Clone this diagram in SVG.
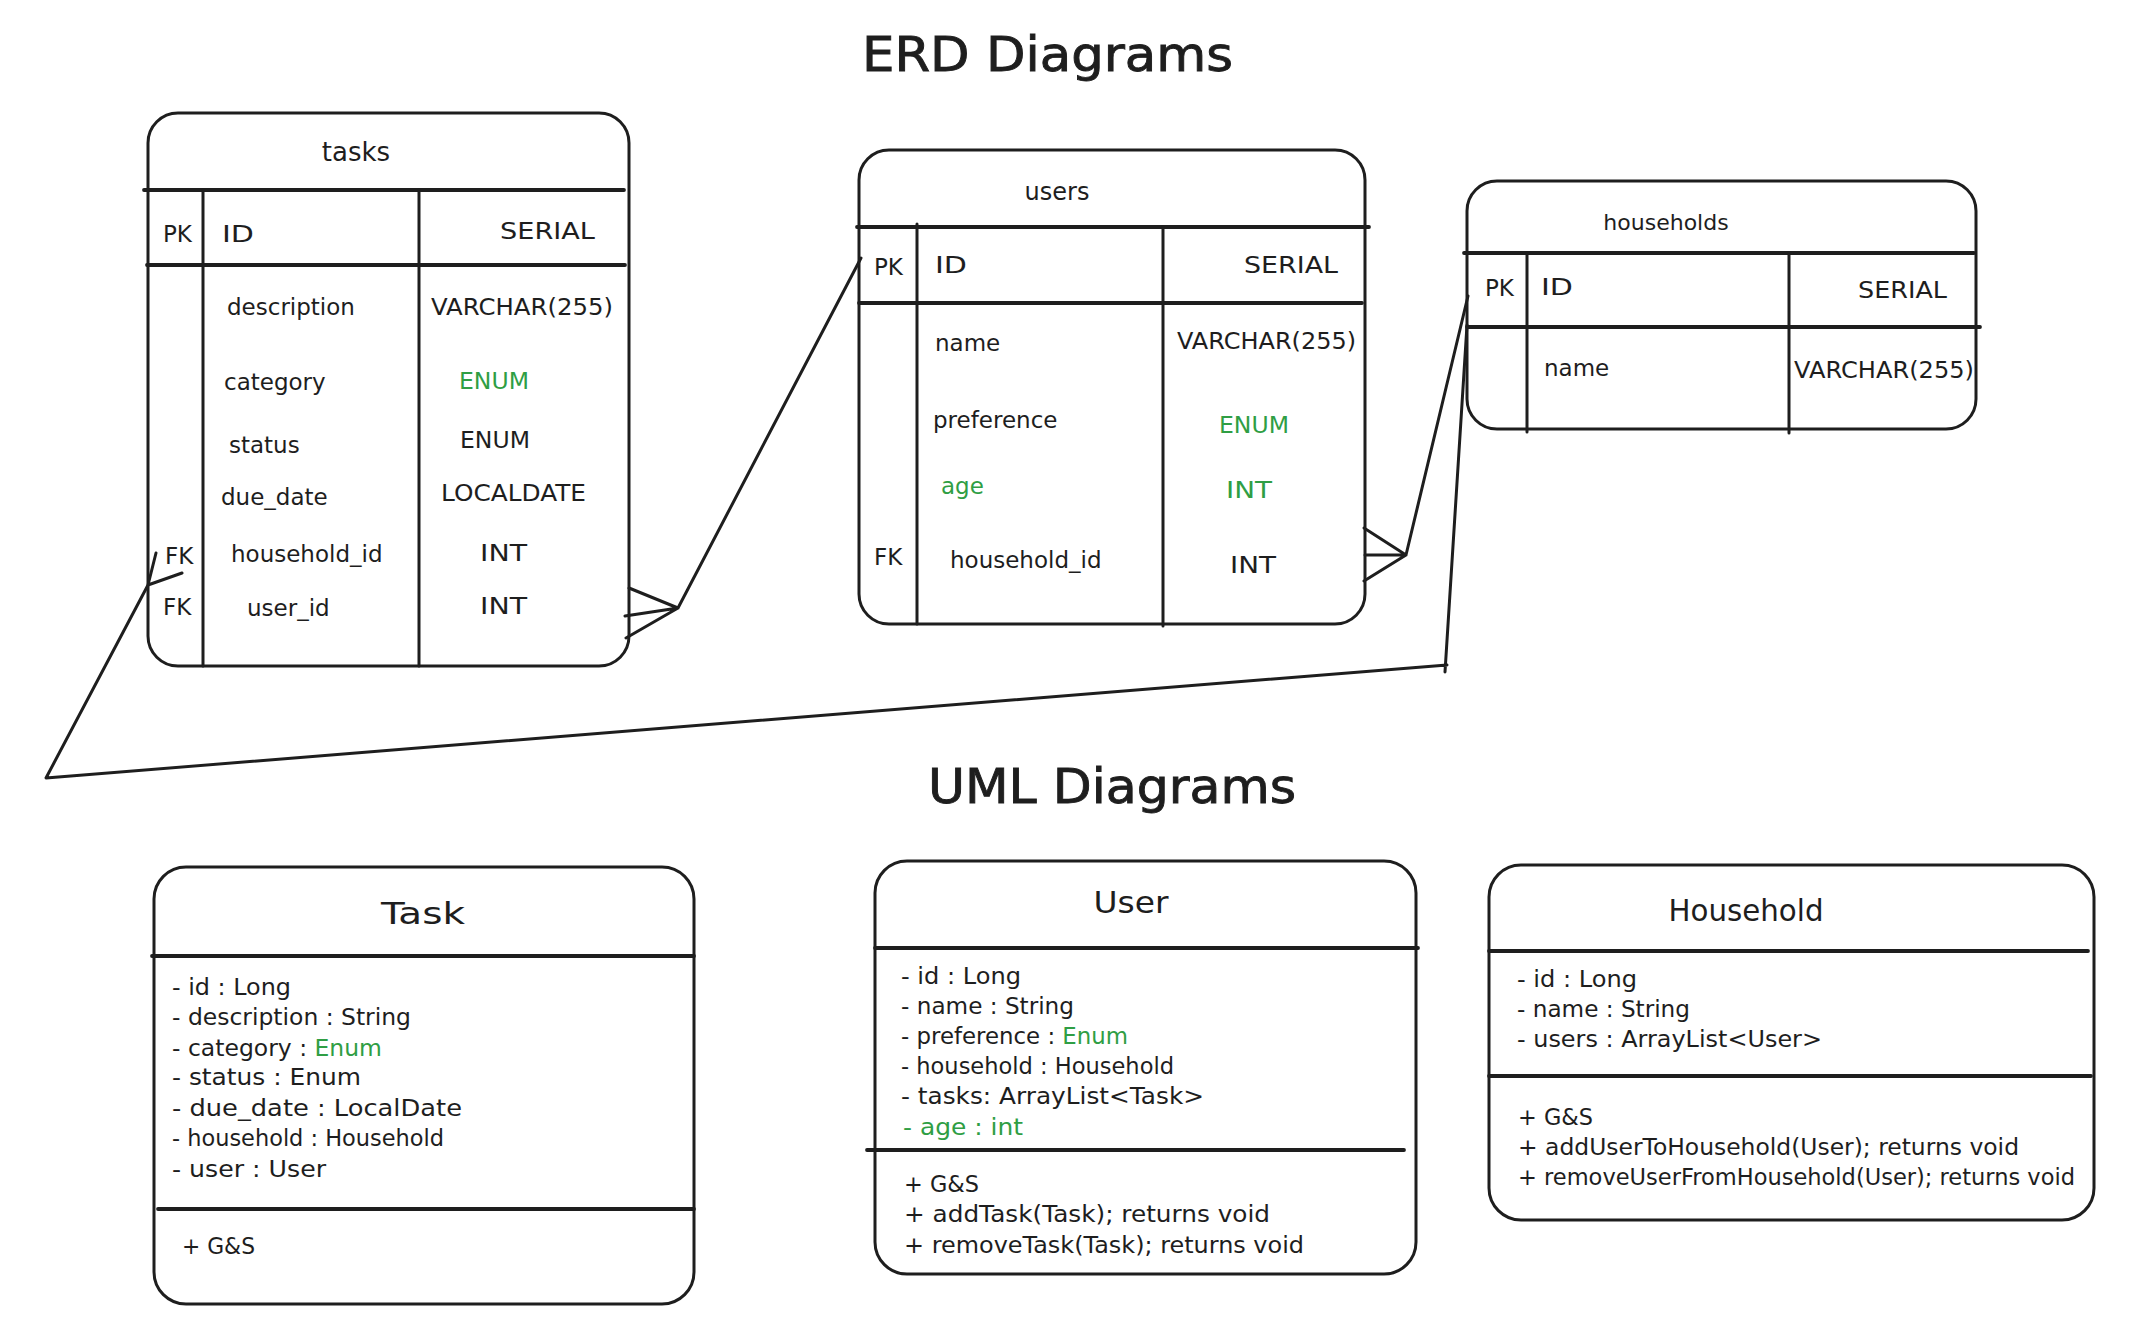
<svg xmlns="http://www.w3.org/2000/svg" width="2146" height="1332" viewBox="0 0 2146 1332">
<style>
.bx{fill:none;stroke:#1e1e1e;stroke-width:3}
.sp{stroke:#1e1e1e;stroke-width:3.8;stroke-linecap:round}
.cl{stroke:#1e1e1e;stroke-width:3;stroke-linecap:round}
.cn{fill:none;stroke:#1e1e1e;stroke-width:3;stroke-linecap:round;stroke-linejoin:round}
text{font-family:"DejaVu Sans","Liberation Sans",sans-serif;fill:#1e1e1e}
.e{font-size:23px}
.u{font-size:23px}
.h{font-size:30px}
.ti{font-size:48px;stroke:#1e1e1e;stroke-width:0.9}
.g{fill:#2f9e44}
.m{text-anchor:middle}
</style>
<rect width="2146" height="1332" fill="#ffffff"/>

<g id="titles">
<text class="ti" x="862" y="71" textLength="371" lengthAdjust="spacingAndGlyphs">ERD Diagrams</text>
<text class="ti" x="928" y="803" textLength="368" lengthAdjust="spacingAndGlyphs">UML Diagrams</text>
</g>

<g id="connectors">
<path class="cn" d="M629,588 L678,608 M625,616 L678,608 M626,638 L678,608 L861,258"/>
<path class="cn" d="M1364,528 L1406,555 M1365,555 L1406,555 M1364,581 L1406,555 L1468,296"/>
<path class="cn" d="M1467,325 L1445,672 M1447,665 L46,778 L148,585 M156,553 L148,585 L182,573"/>
</g>

<g id="erd-tasks">
<rect class="bx" x="148" y="113" width="481" height="553" rx="30"/>
<line class="sp" x1="144" y1="190" x2="624" y2="190"/>
<line class="sp" x1="147" y1="265" x2="625" y2="265"/>
<line class="cl" x1="203" y1="190" x2="203" y2="666"/>
<line class="cl" x1="419" y1="190" x2="419" y2="666"/>
<text class="m" x="356" y="161" font-size="26">tasks</text>
<text class="e" x="163" y="242">PK</text>
<text class="e" x="222" y="242" textLength="32" lengthAdjust="spacingAndGlyphs">ID</text>
<text class="e" x="500" y="239" textLength="95" lengthAdjust="spacingAndGlyphs">SERIAL</text>
<text class="e" x="227" y="315">description</text>
<text class="e" x="431" y="315" textLength="182" lengthAdjust="spacingAndGlyphs">VARCHAR(255)</text>
<text class="e" x="224" y="390">category</text>
<text class="e g" x="459" y="389" textLength="70" lengthAdjust="spacingAndGlyphs">ENUM</text>
<text class="e" x="229" y="453">status</text>
<text class="e" x="460" y="448" textLength="70" lengthAdjust="spacingAndGlyphs">ENUM</text>
<text class="e" x="221" y="505">due_date</text>
<text class="e" x="441" y="501" textLength="145" lengthAdjust="spacingAndGlyphs">LOCALDATE</text>
<text class="e" x="165" y="564">FK</text>
<text class="e" x="231" y="562">household_id</text>
<text class="e" x="480" y="561" textLength="47" lengthAdjust="spacingAndGlyphs">INT</text>
<text class="e" x="163" y="615">FK</text>
<text class="e" x="247" y="616">user_id</text>
<text class="e" x="480" y="614" textLength="47" lengthAdjust="spacingAndGlyphs">INT</text>
</g>

<g id="erd-users">
<rect class="bx" x="859" y="150" width="506" height="474" rx="30"/>
<line class="sp" x1="857" y1="227" x2="1369" y2="227"/>
<line class="sp" x1="859" y1="303" x2="1362" y2="303"/>
<line class="cl" x1="917" y1="224" x2="917" y2="624"/>
<line class="cl" x1="1163" y1="227" x2="1163" y2="626"/>
<text class="m" x="1057" y="200" font-size="24">users</text>
<text class="e" x="874" y="275">PK</text>
<text class="e" x="935" y="273" textLength="32" lengthAdjust="spacingAndGlyphs">ID</text>
<text class="e" x="1244" y="273" textLength="94" lengthAdjust="spacingAndGlyphs">SERIAL</text>
<text class="e" x="935" y="351">name</text>
<text class="e" x="1177" y="349" textLength="179" lengthAdjust="spacingAndGlyphs">VARCHAR(255)</text>
<text class="e" x="933" y="428">preference</text>
<text class="e g" x="1219" y="433" textLength="70" lengthAdjust="spacingAndGlyphs">ENUM</text>
<text class="e g" x="941" y="494">age</text>
<text class="e g" x="1226" y="498" textLength="46" lengthAdjust="spacingAndGlyphs">INT</text>
<text class="e" x="874" y="565">FK</text>
<text class="e" x="950" y="568">household_id</text>
<text class="e" x="1230" y="573" textLength="46" lengthAdjust="spacingAndGlyphs">INT</text>
</g>

<g id="erd-households">
<rect class="bx" x="1467" y="181" width="509" height="248" rx="30"/>
<line class="sp" x1="1464" y1="253" x2="1974" y2="253"/>
<line class="sp" x1="1467" y1="327" x2="1980" y2="327"/>
<line class="cl" x1="1527" y1="253" x2="1527" y2="432"/>
<line class="cl" x1="1789" y1="255" x2="1789" y2="433"/>
<text class="m" x="1666" y="230" font-size="22">households</text>
<text class="e" x="1485" y="296">PK</text>
<text class="e" x="1541" y="295" textLength="32" lengthAdjust="spacingAndGlyphs">ID</text>
<text class="e" x="1858" y="298" textLength="89" lengthAdjust="spacingAndGlyphs">SERIAL</text>
<text class="e" x="1544" y="376">name</text>
<text class="e" x="1794" y="378" textLength="180" lengthAdjust="spacingAndGlyphs">VARCHAR(255)</text>
</g>

<g id="uml-task">
<rect class="bx" x="154" y="867" width="540" height="437" rx="32"/>
<line class="sp" x1="152" y1="956" x2="694" y2="956"/>
<line class="sp" x1="158" y1="1209" x2="694" y2="1209"/>
<text class="h m" x="423" y="924" textLength="84" lengthAdjust="spacingAndGlyphs">Task</text>
<text class="u" x="172" y="995" textLength="119" lengthAdjust="spacingAndGlyphs">- id : Long</text>
<text class="u" x="172" y="1025" textLength="239" lengthAdjust="spacingAndGlyphs">- description : String</text>
<text class="u" x="172" y="1056" textLength="210" lengthAdjust="spacingAndGlyphs">- category : <tspan class="g">Enum</tspan></text>
<text class="u" x="172" y="1085" textLength="189" lengthAdjust="spacingAndGlyphs">- status : Enum</text>
<text class="u" x="172" y="1116" textLength="290" lengthAdjust="spacingAndGlyphs">- due_date : LocalDate</text>
<text class="u" x="172" y="1146" textLength="272" lengthAdjust="spacingAndGlyphs">- household : Household</text>
<text class="u" x="172" y="1177" textLength="154" lengthAdjust="spacingAndGlyphs">- user : User</text>
<text class="u" x="182" y="1254" textLength="73" lengthAdjust="spacingAndGlyphs">+ G&amp;S</text>
</g>

<g id="uml-user">
<rect class="bx" x="875" y="861" width="541" height="413" rx="32"/>
<line class="sp" x1="875" y1="948" x2="1418" y2="948"/>
<line class="sp" x1="867" y1="1150" x2="1404" y2="1150"/>
<text class="h m" x="1131" y="913" textLength="75" lengthAdjust="spacingAndGlyphs">User</text>
<text class="u" x="901" y="984" textLength="120" lengthAdjust="spacingAndGlyphs">- id : Long</text>
<text class="u" x="901" y="1014" textLength="173" lengthAdjust="spacingAndGlyphs">- name : String</text>
<text class="u" x="901" y="1044" textLength="227" lengthAdjust="spacingAndGlyphs">- preference : <tspan class="g">Enum</tspan></text>
<text class="u" x="901" y="1074" textLength="273" lengthAdjust="spacingAndGlyphs">- household : Household</text>
<text class="u" x="901" y="1104" textLength="303" lengthAdjust="spacingAndGlyphs">- tasks: ArrayList&lt;Task&gt;</text>
<text class="u g" x="903" y="1135" textLength="120" lengthAdjust="spacingAndGlyphs">- age : int</text>
<text class="u" x="904" y="1192" textLength="75" lengthAdjust="spacingAndGlyphs">+ G&amp;S</text>
<text class="u" x="904" y="1222" textLength="366" lengthAdjust="spacingAndGlyphs">+ addTask(Task); returns void</text>
<text class="u" x="904" y="1253" textLength="400" lengthAdjust="spacingAndGlyphs">+ removeTask(Task); returns void</text>
</g>

<g id="uml-household">
<rect class="bx" x="1489" y="865" width="605" height="355" rx="32"/>
<line class="sp" x1="1489" y1="951" x2="2088" y2="951"/>
<line class="sp" x1="1489" y1="1076" x2="2091" y2="1076"/>
<text class="h m" x="1746" y="921" textLength="155" lengthAdjust="spacingAndGlyphs">Household</text>
<text class="u" x="1517" y="987" textLength="120" lengthAdjust="spacingAndGlyphs">- id : Long</text>
<text class="u" x="1517" y="1017" textLength="173" lengthAdjust="spacingAndGlyphs">- name : String</text>
<text class="u" x="1517" y="1047" textLength="305" lengthAdjust="spacingAndGlyphs">- users : ArrayList&lt;User&gt;</text>
<text class="u" x="1518" y="1125" textLength="75" lengthAdjust="spacingAndGlyphs">+ G&amp;S</text>
<text class="u" x="1518" y="1155" textLength="501" lengthAdjust="spacingAndGlyphs">+ addUserToHousehold(User); returns void</text>
<text class="u" x="1518" y="1185" textLength="557" lengthAdjust="spacingAndGlyphs">+ removeUserFromHousehold(User); returns void</text>
</g>
</svg>
